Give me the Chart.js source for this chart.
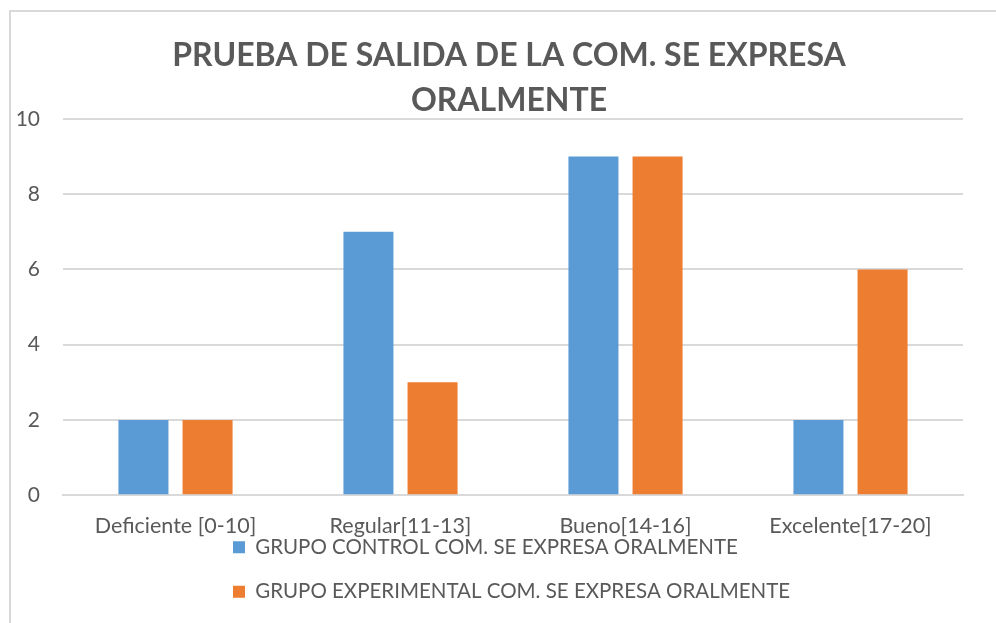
<!DOCTYPE html>
<html>
<head>
<meta charset="utf-8">
<script src="https://cdn.jsdelivr.net/npm/chart.js@4.4.1/dist/chart.umd.min.js"></script>
<style>
  html, body { margin: 0; padding: 0; background: #fff; }
  #wrap { position: relative; width: 996px; height: 623px; overflow: hidden; }
  #frame { position: absolute; left: 9px; top: 10px; width: 1100px; height: 700px;
           border: 2px solid #d9d9d9; pointer-events: none; }
</style>
</head>
<body>
<div id="wrap">
  <canvas id="myChart" width="996" height="623"></canvas>
  <div id="frame"></div>
</div>
<script>
const categories = ['Deficiente [0-10]', 'Regular[11-13]', 'Bueno[14-16]', 'Excelente[17-20]'];
const controlValues = [2, 7, 9, 2];
const experimentalValues = [2, 3, 9, 6];
const seriesNames = ['GRUPO CONTROL COM. SE EXPRESA ORALMENTE', 'GRUPO EXPERIMENTAL COM. SE EXPRESA ORALMENTE'];
const titleLines = ['PRUEBA DE SALIDA DE LA COM. SE EXPRESA', 'ORALMENTE'];

const FONT = 'Lato, "Open Sans", sans-serif';
const GREY = '#595959';

// Excel-ish placement: title centred on the frame, wrapped legend rows left aligned
const excelLayout = {
  id: 'excelLayout',
  afterLayout(chart) {
    const lg = chart.legend;
    lg.left = 233 - lg.options.labels.padding;
    lg.top -= 36;
    const t = chart.titleBlock;
    t.left = 0;
    t.right = 1018;
  }
};

const ctx = document.getElementById('myChart');
new Chart(ctx, {
  type: 'bar',
  data: {
    labels: categories,
    datasets: [{
      label: seriesNames[0],
      data: controlValues,
      backgroundColor: '#5B9BD5',
      categoryPercentage: 0.57,
      barPercentage: 0.78
    }, {
      label: seriesNames[1],
      data: experimentalValues,
      backgroundColor: '#ED7D31',
      categoryPercentage: 0.57,
      barPercentage: 0.78
    }]
  },
  options: {
    responsive: false,
    animation: false,
    layout: { padding: { left: 0, right: 33, top: 0, bottom: -25 } },
    scales: {
      x: {
        grid: { display: false },
        border: { color: '#d9d9d9', width: 2 },
        ticks: { color: GREY, font: { family: FONT, size: 21.5 }, padding: 10, maxRotation: 0 }
      },
      y: {
        min: 0,
        max: 10,
        ticks: { stepSize: 2, color: GREY, font: { family: FONT, size: 21 }, padding: 23 },
        grid: { color: '#d9d9d9', lineWidth: 2, drawTicks: false },
        border: { display: false },
        afterFit(scale) { scale.width = 63; }
      }
    },
    plugins: {
      title: {
        display: true,
        text: titleLines,
        color: GREY,
        font: { family: FONT, size: 32, weight: 'bold', lineHeight: '45px' },
        padding: { top: 33, bottom: -4 }
      },
      legend: {
        position: 'bottom',
        align: 'start',
        labels: {
          color: GREY,
          font: { family: FONT, size: 20.5 },
          boxWidth: 12,
          boxHeight: 12,
          padding: 24
        }
      },
      tooltip: { enabled: false }
    }
  },
  plugins: [excelLayout]
});
</script>
</body>
</html>
